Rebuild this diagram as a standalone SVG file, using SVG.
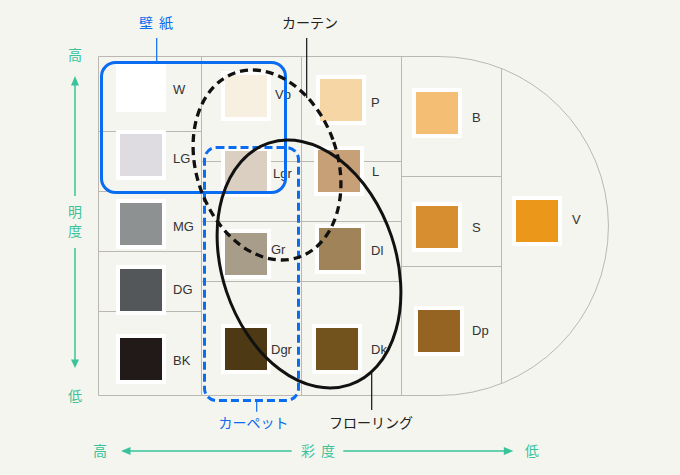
<svg xmlns="http://www.w3.org/2000/svg" width="680" height="475" viewBox="0 0 680 475">
<style>
.grid{fill:none;stroke:#bab8b0;stroke-width:1}
.sw{fill:#ffffff}
.lbl{font-family:"Liberation Sans",Arial,sans-serif;font-size:13px;fill:#333333}
.jp{font-family:"Noto Sans CJK JP","Noto Sans CJK SC",sans-serif;font-size:14px}
.ax{font-family:"Noto Sans CJK JP","Noto Sans CJK SC",sans-serif;font-size:14px;fill:#38c39a;text-anchor:middle}
.axl{stroke:#38c39a;stroke-width:1.5;fill:none}
.axh{fill:#38c39a}
.blue{fill:#0a6cf0}
.lead{stroke-width:1.2;fill:none}
</style>
<rect x="0" y="0" width="680" height="475" fill="#f5f5ef"/>

<g id="grid" class="grid">
<path d="M98.5,56.5 H439 A169.5,169.5 0 0 1 439,395.5 H98.5 Z"/>
<path d="M201.5,56.5 V395.5 M301.5,56.5 V395.5 M401.5,56.5 V395.5 M501.5,68.5 V383.5"/>
<path d="M98.5,131.5 H201.5 M98.5,191.5 H201.5 M98.5,251.5 H201.5 M98.5,311.5 H201.5"/>
<path d="M201.5,161.5 H401.5 M201.5,221.5 H401.5 M201.5,281.5 H401.5"/>
<path d="M401.5,176.5 H501.5 M401.5,266.5 H501.5"/>
</g>

<g id="sw-W"><rect class="sw" x="116" y="62" width="50" height="50"/><rect x="120" y="66" width="42" height="42" fill="#ffffff"/><text class="lbl" x="173" y="94">W</text></g>
<g id="sw-LG"><rect class="sw" x="116" y="130" width="50" height="50"/><rect x="120" y="134" width="42" height="42" fill="#dedce1"/><text class="lbl" x="173" y="162.7">LG</text></g>
<g id="sw-MG"><rect class="sw" x="116" y="199" width="50" height="50"/><rect x="120" y="203" width="42" height="42" fill="#8d9192"/><text class="lbl" x="173" y="230.7">MG</text></g>
<g id="sw-DG"><rect class="sw" x="116" y="265" width="50" height="50"/><rect x="120" y="269" width="42" height="42" fill="#53575a"/><text class="lbl" x="173" y="294">DG</text></g>
<g id="sw-BK"><rect class="sw" x="116" y="334" width="50" height="50"/><rect x="120" y="338" width="42" height="42" fill="#221a18"/><text class="lbl" x="173" y="365">BK</text></g>

<g id="sw-Vp"><rect class="sw" x="221" y="71" width="50" height="50"/><rect x="225" y="75" width="42" height="42" fill="#f7f0e0"/><text class="lbl" x="275" y="99.3">Vp</text></g>
<g id="sw-Lgr"><rect class="sw" x="221" y="147" width="50" height="50"/><rect x="225" y="151" width="42" height="42" fill="#dbcfc1"/><text class="lbl" x="273" y="178.3">Lgr</text></g>
<g id="sw-Gr"><rect class="sw" x="221" y="229" width="50" height="50"/><rect x="225" y="233" width="42" height="42" fill="#a89d88"/><text class="lbl" x="271" y="254.3">Gr</text></g>
<g id="sw-Dgr"><rect class="sw" x="221" y="324" width="50" height="50"/><rect x="225" y="328" width="42" height="42" fill="#4d3914"/><text class="lbl" x="271" y="354.3">Dgr</text></g>

<g id="sw-P"><rect class="sw" x="316" y="75" width="50" height="50"/><rect x="320" y="79" width="42" height="42" fill="#f5d6a4"/><text class="lbl" x="371" y="106.7">P</text></g>
<g id="sw-L"><rect class="sw" x="314" y="146" width="50" height="50"/><rect x="318" y="150" width="42" height="42" fill="#c8a078"/><text class="lbl" x="372" y="176">L</text></g>
<g id="sw-Dl"><rect class="sw" x="315" y="224" width="50" height="50"/><rect x="319" y="228" width="42" height="42" fill="#a08359"/><text class="lbl" x="371" y="255">Dl</text></g>
<g id="sw-Dk"><rect class="sw" x="312" y="324" width="50" height="50"/><rect x="316" y="328" width="42" height="42" fill="#72521d"/><text class="lbl" x="371" y="354.3">Dk</text></g>

<g id="sw-B"><rect class="sw" x="412" y="88" width="50" height="50"/><rect x="416" y="92" width="42" height="42" fill="#f5be75"/><text class="lbl" x="472" y="121.7">B</text></g>
<g id="sw-S"><rect class="sw" x="412" y="202" width="50" height="50"/><rect x="416" y="206" width="42" height="42" fill="#d78e30"/><text class="lbl" x="472" y="231.7">S</text></g>
<g id="sw-Dp"><rect class="sw" x="414" y="306" width="50" height="50"/><rect x="418" y="310" width="42" height="42" fill="#956322"/><text class="lbl" x="472" y="335">Dp</text></g>
<g id="sw-V"><rect class="sw" x="512" y="196" width="50" height="50"/><rect x="516" y="200" width="42" height="42" fill="#eb981a"/><text class="lbl" x="572" y="224.3">V</text></g>

<g id="wallpaper">
<rect x="101.5" y="62.5" width="184" height="130" rx="14" fill="none" stroke="#0a6cf0" stroke-width="3"/>
<text class="jp blue" x="146 156.5 166" y="28" text-anchor="middle">壁 紙</text>
</g>
<g id="carpet">
<rect x="204.5" y="147.5" width="94" height="253" rx="12" fill="none" stroke="#0a6cf0" stroke-width="3" stroke-dasharray="8 4"/>
<text class="jp blue" x="253.5" y="428" text-anchor="middle">カーペット</text>
</g>
<g id="curtain">
<ellipse cx="267" cy="165" rx="70.6" ry="97.5" transform="rotate(-19 267 165)" fill="none" stroke="#111111" stroke-width="3.3" stroke-dasharray="8 5"/>
<text class="jp" x="310" y="28" text-anchor="middle" fill="#222222">カーテン</text>
</g>
<g id="flooring">
<ellipse cx="309" cy="264" rx="87" ry="127.5" transform="rotate(-18.5 309 264)" fill="none" stroke="#111111" stroke-width="3"/>
<text class="jp" x="371" y="428" text-anchor="middle" fill="#222222">フローリング</text>
</g>

<g id="connectors">
<line class="lead" x1="156.7" y1="38" x2="156.7" y2="61" stroke="#0a6cf0"/>
<line class="lead" x1="306.7" y1="38" x2="306.7" y2="98" stroke="#111111"/>
<line class="lead" x1="256.7" y1="402" x2="256.7" y2="411.7" stroke="#0a6cf0"/>
<line class="lead" x1="371.7" y1="373" x2="371.7" y2="410" stroke="#111111"/>
</g>

<g id="axis-brightness">
<text class="ax" x="75" y="60">高</text>
<path class="axl" d="M75,85 V196 M75,248 V360"/>
<polygon class="axh" points="75,76 71,85.5 79,85.5"/>
<polygon class="axh" points="75,368 71,359.5 79,359.5"/>
<text class="ax" x="75" y="216.7">明</text>
<text class="ax" x="75" y="236">度</text>
<text class="ax" x="75" y="401">低</text>
</g>
<g id="axis-saturation">
<text class="ax" x="100" y="456">高</text>
<path class="axl" d="M130,451 H291.7 M343.3,451 H504.5"/>
<polygon class="axh" points="121,451 130.5,447 130.5,455"/>
<polygon class="axh" points="513.3,451 503.8,447 503.8,455"/>
<text class="ax" x="308 318 328" y="456">彩 度</text>
<text class="ax" x="531.7" y="456">低</text>
</g>
</svg>
